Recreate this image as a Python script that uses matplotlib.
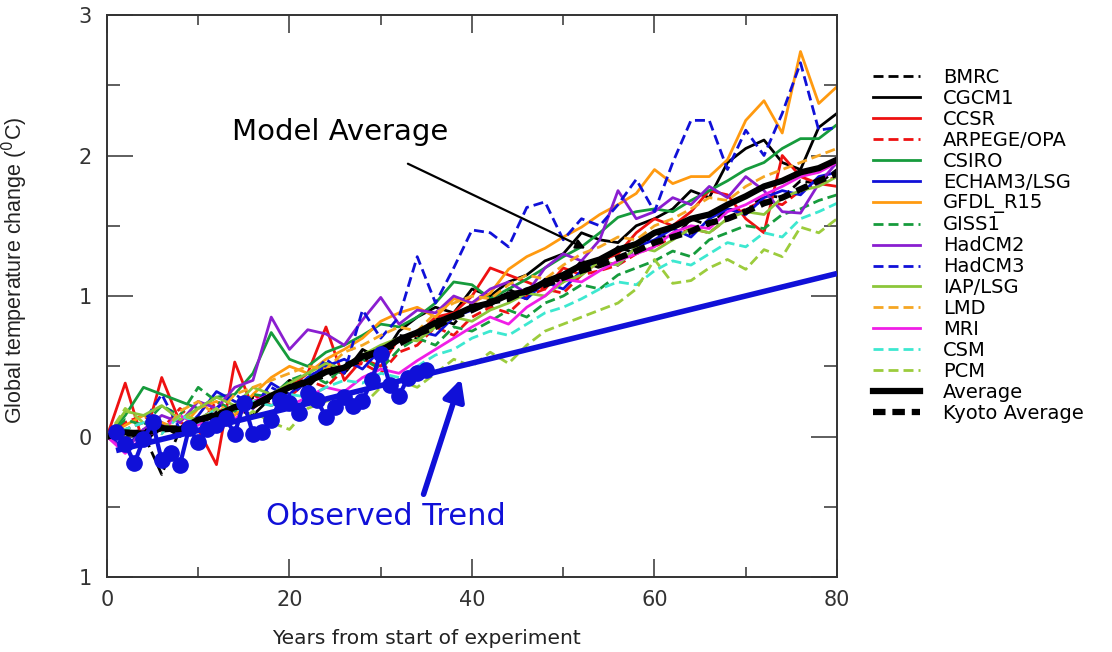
import matplotlib
matplotlib.use("Agg")
import matplotlib.pyplot as plt
from matplotlib.ticker import MultipleLocator

# years sampled every 2 years (0..80)
years = list(range(0, 81, 2))

bmrc = [0.00, -0.05, 0.02, -0.27, 0.05, 0.10, 0.18, 0.15, 0.28, 0.25, 0.38, 0.35, 0.48, 0.45, 0.60, 0.55, 0.72, 0.70, 0.85, 0.80, 0.95,
        0.92, 1.05, 0.98, 1.12, 1.10, 1.25, 1.20, 1.35, 1.30, 1.45, 1.40, 1.55, 1.50, 1.62, 1.60, 1.72, 1.70, 1.82, 1.80, 1.90]
cgcm1 = [0.00, 0.05, -0.05, 0.08, 0.00, 0.12, 0.05, 0.20, 0.15, 0.28, 0.40, 0.35, 0.52, 0.45, 0.62, 0.55, 0.75, 0.85, 0.92, 0.88, 1.05,
         1.00, 1.10, 1.15, 1.25, 1.30, 1.45, 1.40, 1.38, 1.50, 1.55, 1.62, 1.75, 1.70, 1.95, 2.05, 2.11, 1.95, 1.90, 2.20, 2.30]
ccsr = [0.00, 0.38, -0.05, 0.42, 0.10, 0.05, -0.20, 0.53, 0.20, 0.30, 0.35, 0.45, 0.78, 0.40, 0.55, 0.50, 0.70, 0.72, 0.85, 0.88, 1.00,
        1.20, 1.15, 1.10, 1.05, 1.20, 1.15, 1.25, 1.30, 1.45, 1.55, 1.50, 1.60, 1.75, 1.72, 1.55, 1.45, 2.00, 1.85, 1.80, 1.78]
arpege = [0.00, 0.10, 0.15, 0.05, 0.20, 0.08, 0.25, 0.18, 0.30, 0.22, 0.28, 0.40, 0.35, 0.48, 0.52, 0.45, 0.60, 0.65, 0.78, 0.72, 0.85,
          0.92, 0.88, 1.00, 1.05, 1.02, 1.15, 1.18, 1.22, 1.30, 1.35, 1.42, 1.48, 1.45, 1.55, 1.62, 1.68, 1.65, 1.75, 1.80, 1.85]
csiro = [0.00, 0.15, 0.35, 0.30, 0.25, 0.20, 0.28, 0.30, 0.45, 0.74, 0.55, 0.50, 0.60, 0.65, 0.72, 0.80, 0.78, 0.85, 0.95, 1.10, 1.08,
         0.98, 1.05, 1.12, 1.20, 1.28, 1.35, 1.45, 1.56, 1.60, 1.62, 1.60, 1.68, 1.75, 1.82, 1.90, 1.95, 2.05, 2.12, 2.12, 2.22]
echam3 = [0.00, -0.08, 0.05, 0.10, 0.02, 0.15, 0.32, 0.25, 0.20, 0.38, 0.30, 0.42, 0.50, 0.55, 0.48, 0.62, 0.68, 0.75, 0.72, 0.85, 0.90,
          0.95, 1.02, 0.98, 1.10, 1.05, 1.18, 1.25, 1.22, 1.35, 1.40, 1.48, 1.42, 1.55, 1.62, 1.58, 1.70, 1.75, 1.72, 1.85, 1.88]
gfdl = [0.00, 0.08, 0.15, 0.10, 0.05, 0.20, 0.25, 0.15, 0.30, 0.42, 0.50, 0.45, 0.55, 0.62, 0.70, 0.82, 0.88, 0.92, 0.85, 0.98, 0.95,
        1.02, 1.19, 1.28, 1.34, 1.42, 1.49, 1.58, 1.65, 1.73, 1.90, 1.80, 1.85, 1.85, 1.97, 2.25, 2.39, 2.16, 2.74, 2.37, 2.49]
giss1 = [0.00, 0.12, 0.08, 0.22, 0.15, 0.35, 0.25, 0.18, 0.30, 0.28, 0.40, 0.45, 0.38, 0.50, 0.55, 0.48, 0.62, 0.70, 0.65, 0.78, 0.75,
         0.82, 0.90, 0.85, 0.95, 1.00, 1.08, 1.05, 1.15, 1.20, 1.25, 1.32, 1.28, 1.40, 1.45, 1.50, 1.48, 1.58, 1.62, 1.68, 1.72]
hadcm2 = [0.00, -0.10, 0.05, 0.15, 0.10, 0.25, 0.20, 0.35, 0.40, 0.85, 0.62, 0.76, 0.73, 0.65, 0.83, 0.99, 0.80, 0.90, 0.88, 1.00, 0.95,
          1.05, 1.10, 1.02, 1.20, 1.30, 1.25, 1.40, 1.75, 1.55, 1.60, 1.70, 1.65, 1.78, 1.70, 1.85, 1.75, 1.60, 1.59, 1.80, 1.95]
hadcm3 = [0.00, 0.05, 0.10, 0.30, 0.05, 0.12, 0.20, 0.30, 0.22, 0.35, 0.28, 0.40, 0.55, 0.45, 0.90, 0.70, 0.85, 1.28, 0.95, 1.20, 1.47,
          1.45, 1.35, 1.63, 1.67, 1.40, 1.55, 1.50, 1.65, 1.83, 1.60, 1.95, 2.25, 2.25, 1.90, 2.18, 2.00, 2.30, 2.66, 2.18, 2.20]
iap = [0.00, 0.18, 0.15, 0.22, 0.12, 0.20, 0.28, 0.22, 0.35, 0.30, 0.38, 0.45, 0.52, 0.48, 0.58, 0.65, 0.70, 0.68, 0.78, 0.85, 0.82,
       0.90, 0.95, 1.02, 1.00, 1.10, 1.15, 1.25, 1.22, 1.35, 1.32, 1.40, 1.48, 1.45, 1.55, 1.60, 1.58, 1.70, 1.75, 1.78, 1.85]
lmd = [0.00, 0.05, 0.10, 0.02, 0.18, 0.25, 0.15, 0.30, 0.35, 0.40, 0.45, 0.50, 0.48, 0.60, 0.65, 0.72, 0.78, 0.75, 0.88, 0.95, 1.00,
       0.98, 1.08, 1.15, 1.12, 1.22, 1.30, 1.35, 1.42, 1.40, 1.50, 1.55, 1.62, 1.70, 1.68, 1.78, 1.85, 1.90, 1.95, 2.00, 2.05]
mri = [0.00, -0.12, 0.00, 0.05, 0.15, 0.08, 0.20, 0.12, 0.25, 0.30, 0.22, 0.28, 0.35, 0.32, 0.42, 0.48, 0.45, 0.54, 0.62, 0.70, 0.78,
       0.85, 0.80, 0.92, 1.00, 1.12, 1.10, 1.18, 1.25, 1.30, 1.35, 1.45, 1.50, 1.48, 1.60, 1.65, 1.72, 1.78, 1.85, 1.88, 1.95]
csm = [0.00, 0.05, 0.10, 0.02, 0.15, 0.10, 0.20, 0.18, 0.25, 0.22, 0.30, 0.28, 0.35, 0.40, 0.38, 0.45, 0.42, 0.50, 0.58, 0.62, 0.70,
       0.75, 0.72, 0.80, 0.88, 0.92, 0.98, 1.05, 1.10, 1.08, 1.18, 1.25, 1.22, 1.30, 1.38, 1.35, 1.45, 1.42, 1.55, 1.60, 1.66]
pcm = [0.00, 0.20, 0.10, 0.05, 0.15, 0.12, 0.20, 0.08, 0.18, 0.10, 0.05, 0.20, 0.25, 0.30, 0.22, 0.35, 0.40, 0.35, 0.45, 0.55, 0.50,
       0.60, 0.52, 0.65, 0.75, 0.80, 0.85, 0.90, 0.95, 1.05, 1.26, 1.09, 1.11, 1.20, 1.26, 1.19, 1.33, 1.28, 1.49, 1.45, 1.55]
average = [0.00, 0.03, 0.02, 0.06, 0.05, 0.12, 0.15, 0.21, 0.22, 0.29, 0.35, 0.39, 0.46, 0.49, 0.57, 0.61, 0.69, 0.74, 0.81, 0.86, 0.92,
           0.95, 1.01, 1.03, 1.10, 1.15, 1.22, 1.26, 1.33, 1.37, 1.45, 1.49, 1.55, 1.58, 1.65, 1.71, 1.78, 1.82, 1.88, 1.91, 1.97]
kyoto = [0.00, 0.02, 0.03, 0.05, 0.06, 0.11, 0.16, 0.19, 0.23, 0.27, 0.34, 0.40, 0.44, 0.50, 0.55, 0.62, 0.66, 0.73, 0.78, 0.85, 0.90,
         0.96, 0.98, 1.04, 1.08, 1.13, 1.18, 1.22, 1.27, 1.32, 1.38, 1.42, 1.46, 1.52, 1.55, 1.60, 1.66, 1.70, 1.76, 1.82, 1.87]

# observed record (annual)
obs_years = list(range(1, 36))
obs_vals = [0.03, -0.05, -0.19, -0.02, 0.10, -0.17, -0.12, -0.20, 0.06, -0.04, 0.05, 0.08, 0.13, 0.02, 0.24, 0.02, 0.03, 0.12,
            0.26, 0.24, 0.17, 0.31, 0.26, 0.14, 0.21, 0.28, 0.22, 0.25, 0.40, 0.59, 0.37, 0.29, 0.42, 0.45, 0.47]
trend_x = [1, 80]
trend_y = [-0.10, 1.16]

# (label, data, colour, dashed)
models = [
    ("BMRC", bmrc, "black", True),
    ("CGCM1", cgcm1, "black", False),
    ("CCSR", ccsr, "#ee1111", False),
    ("ARPEGE/OPA", arpege, "#ee1111", True),
    ("CSIRO", csiro, "#169b3c", False),
    ("ECHAM3/LSG", echam3, "#1010d8", False),
    ("GFDL_R15", gfdl, "#ff9a10", False),
    ("GISS1", giss1, "#169b3c", True),
    ("HadCM2", hadcm2, "#8a1ed0", False),
    ("HadCM3", hadcm3, "#1010d8", True),
    ("IAP/LSG", iap, "#8cc63a", False),
    ("LMD", lmd, "#f5a623", True),
    ("MRI", mri, "#f01ee6", False),
    ("CSM", csm, "#3de8d0", True),
    ("PCM", pcm, "#9ccc3c", True),
]

plt.rcParams["font.family"] = "DejaVu Sans"
fig = plt.figure(figsize=(11.12, 6.52), dpi=100)
ax = fig.add_axes([0.0962, 0.115, 0.6565, 0.862])

for label, vals, col, dashed in models:
    if dashed:
        ax.plot(years, vals, color=col, lw=2, dashes=(3.6, 1.8), label=label)
    else:
        ax.plot(years, vals, color=col, lw=2, label=label)

ax.plot(years, average, color="black", lw=4.5, label="Average")
ax.plot(years, kyoto, color="black", lw=4.5, dashes=(2, 1.1), label="Kyoto Average")

# observations and trend
ax.plot(obs_years, obs_vals, color="#1010d8", lw=3, marker="o", ms=11, zorder=5)
ax.plot(trend_x, trend_y, color="#1010d8", lw=4, solid_capstyle="butt", zorder=6)

ax.annotate("", xy=(52.7, 1.33), xytext=(32.7, 1.95),
            arrowprops=dict(arrowstyle="-|>", color="black", lw=1.6, mutation_scale=14))
ax.text(25.5, 2.17, "Model Average", fontsize=21, ha="center", va="center", color="black")
ax.annotate("", xy=(38.9, 0.43), xytext=(34.6, -0.43),
            arrowprops=dict(arrowstyle="-|>", color="#1010d8", lw=4, mutation_scale=32))
ax.text(30.6, -0.57, "Observed Trend", fontsize=22, ha="center", va="center", color="#1010d8")

ax.set_xlim(0, 80)
ax.set_ylim(-1, 3)
ax.xaxis.set_major_locator(MultipleLocator(20))
ax.xaxis.set_minor_locator(MultipleLocator(10))
ax.yaxis.set_major_locator(MultipleLocator(1))
ax.yaxis.set_minor_locator(MultipleLocator(0.5))
ax.set_yticks([-1, 0, 1, 2, 3])
ax.set_yticklabels(["1", "0", "1", "2", "3"])
ax.tick_params(axis="both", which="both", direction="in", top=True, right=True,
               width=1.1, colors="#333333", labelsize=15)
ax.tick_params(axis="x", which="major", length=13, pad=9)
ax.tick_params(axis="x", which="minor", length=7)
ax.tick_params(axis="y", which="major", length=19, pad=11)
ax.tick_params(axis="y", which="minor", length=9.5)
for sp in ax.spines.values():
    sp.set_linewidth(1.4)
    sp.set_color("#333333")

ax.set_xlabel("Years from start of experiment", fontsize=14.5, color="#222222")
ax.xaxis.set_label_coords(0.437, -0.092)
ax.set_ylabel("Global temperature change ($^0$C)", fontsize=15.5, color="#222222",
              family="Liberation Sans")
ax.yaxis.set_label_coords(-0.105, 0.545)

leg = ax.legend(loc="upper left", bbox_to_anchor=(0.785, 0.896), bbox_transform=fig.transFigure,
                frameon=False, fontsize=14, handlelength=2.4, handletextpad=1.2,
                labelspacing=0.1, borderpad=0, borderaxespad=0)

fig.savefig("out.png", dpi=100)
